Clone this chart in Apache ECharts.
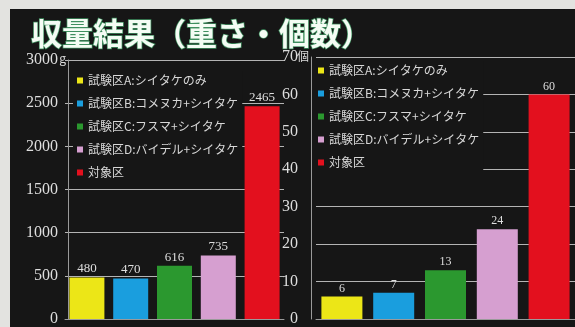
<!DOCTYPE html>
<html><head><meta charset="utf-8">
<script src="https://cdn.jsdelivr.net/npm/echarts@6/dist/echarts.min.js"></script>
<style>html,body{margin:0;padding:0;background:#161616;}#c{width:575px;height:327px;}</style>
</head><body><div id="c"></div>
<script>
const titleText = '収量結果（重さ・個数）';
const categories = ['試験区A:シイタケのみ','試験区B:コメヌカ+シイタケ','試験区C:フスマ+シイタケ','試験区D:バイデル+シイタケ','対象区'];
const colors = ['#ece617','#1a9ede','#2b982f','#d69fd0','#e3101e'];
const weightValues = [480, 470, 616, 735, 2465];
const countValues = [6, 7, 13, 24, 60];
const weightTicks = {min:0, max:3000, interval:500, unit:'g'};
const countTicks = {min:0, max:70, interval:10, unit:'個'};

const labelColor = '#dedede';
const gridLine = '#b4b4b4';

function makeSeries(values, axisIdx, fontSize) {
  return categories.map((name, i) => ({
    name: name,
    type: 'bar',
    xAxisIndex: axisIdx,
    yAxisIndex: axisIdx,
    stack: 's' + axisIdx,
    barWidth: axisIdx === 0 ? 35 : 41,
    itemStyle: {color: colors[i]},
    label: {show: true, position: 'top', distance: 2, color: labelColor,
      fontFamily: 'Liberation Serif', fontSize: fontSize},
    data: categories.map((c, j) => j === i ? values[j] : '-')
  }));
}

function legendCfg(left, top) {
  return {
    left: left, top: top, orient: 'vertical',
    backgroundColor: '#161616', padding: [3, 4, 1, 4],
    icon: 'rect', itemWidth: 6, itemHeight: 6, itemGap: 10,
    textStyle: {color: '#d8d8d8', fontSize: 12, lineHeight: 13, fontFamily: 'Noto Sans CJK JP'},
    data: categories
  };
}

function yAxisCfg(ticks, gridIndex, offset, fontSize, margin, nameGap) {
  return {
    type: 'value', gridIndex: gridIndex, min: ticks.min, max: ticks.max, interval: ticks.interval,
    offset: offset,
    name: ticks.unit, nameLocation: 'end', nameGap: nameGap, nameMoveOverlap: false,
    nameTextStyle: {color: labelColor, fontSize: 12, align: 'right', verticalAlign: 'middle', fontFamily: 'Noto Sans CJK JP', padding:[0,2,0,0]},
    axisLine: {show: true, lineStyle: {color: '#9a9a9a', width: 1}},
    axisTick: {show: false},
    axisLabel: {color: labelColor, fontSize: fontSize, fontFamily: 'Liberation Serif', margin: margin,
      formatter: v => String(v)},
    splitLine: {show: true, lineStyle: {color: gridLine, width: 1}}
  };
}

const chart = echarts.init(document.getElementById('c'), null, {renderer: 'canvas'});
chart.setOption({
  backgroundColor: '#161616',
  animation: false,
  title: {
    text: titleText, left: 31, top: 18, padding: 0,
    textStyle: {color: '#f4fcf4', fontSize: 31, fontWeight: 'bold', fontFamily: 'Noto Sans CJK JP',
      textBorderColor: '#3f8f5f', textBorderWidth: 1.5}
  },
  graphic: [
    {type: 'rect', left: 0, top: 0, shape: {width: 10, height: 327}, style: {fill: '#e3e3e0'}, z: 100},
    {type: 'rect', left: 0, top: 0, shape: {width: 575, height: 9}, style: {fill: '#e3e3e0'}, z: 100}
  ],
  legend: [legendCfg(73, 71), legendCfg(314, 61)],
  grid: [
    {left: 65, top: 60, width: 219, bottom: 5},
    {left: 316, top: 57, width: 259, bottom: 5}
  ],
  xAxis: [
    {type: 'category', gridIndex: 0, data: categories, axisLabel: {show: false}, axisTick: {show: false},
      axisLine: {show: true, lineStyle: {color: '#9a9a9a'}}},
    {type: 'category', gridIndex: 1, data: categories, axisLabel: {show: false}, axisTick: {show: false},
      axisLine: {show: true, lineStyle: {color: '#9a9a9a'}}}
  ],
  yAxis: [
    yAxisCfg(weightTicks, 0, -3, 16, 10, 2),
    yAxisCfg(countTicks, 1, 5, 16, 13, 1)
  ],
  series: makeSeries(weightValues, 0, 13).concat(makeSeries(countValues, 1, 12))
});
</script></body></html>
